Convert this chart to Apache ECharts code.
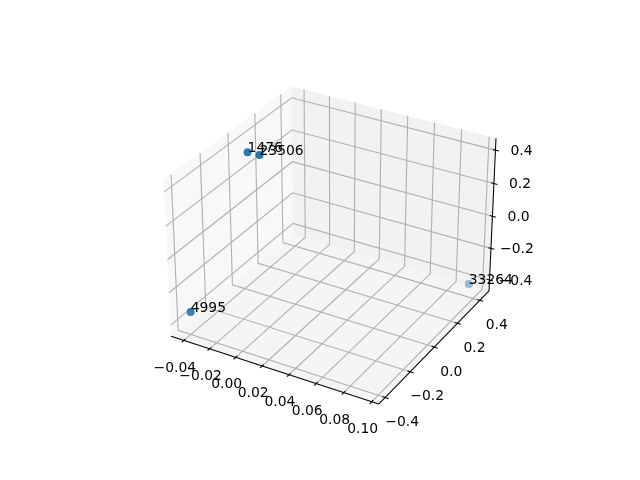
<!DOCTYPE html>
<html><head><meta charset="utf-8"><style>html,body{margin:0;background:#fff}#c{width:640px;height:480px}</style>
<script src="https://cdn.jsdelivr.net/npm/echarts@6/dist/echarts.min.js"></script></head><body><div id="c"></div>
<script>
const labels=['1476','23506','4995','33264'];
const xVals=[-0.026,-0.017,-0.036,0.092];
const yVals=[-0.086,-0.086,-0.43,0.455];
const zVals=[0.457,0.459,-0.297,-0.437];
const xTicks=[-0.04,-0.02,0,0.02,0.04,0.06,0.08,0.10];
const yTicks=[-0.4,-0.2,0,0.2,0.4];
const zTicks=[-0.4,-0.2,0,0.2,0.4];
const xLim=[-0.05,0.105],yLim=[-0.45,0.485],zLim=[-0.47,0.47];
const asp=[4,4,3],nrm=Math.hypot(...asp),ba=asp.map(a=>a*1.8294640721620434*25/24/nrm);
const el=30*Math.PI/180,az=-60*Math.PI/180,dist=10;
const R=ba.map(a=>a/2),ps=[Math.cos(el)*Math.cos(az),Math.cos(el)*Math.sin(az),Math.sin(el)];
const E=R.map((r,i)=>r+dist*ps[i]);
const cross=(a,b)=>[a[1]*b[2]-a[2]*b[1],a[2]*b[0]-a[0]*b[2],a[0]*b[1]-a[1]*b[0]];
const unit=a=>{const n=Math.hypot(...a);return a.map(v=>v/n)};
const w=unit(E.map((e,i)=>e-R[i])),u=unit(cross([0,0,1],w)),v=cross(w,u);
const dot=(a,b)=>a[0]*b[0]+a[1]*b[1]+a[2]*b[2];
function proj(x,y,z){
 const P=[(x-xLim[0])/(xLim[1]-xLim[0])*ba[0]-E[0],(y-yLim[0])/(yLim[1]-yLim[0])*ba[1]-E[1],(z-zLim[0])/(zLim[1]-zLim[0])*ba[2]-E[2]];
 const vx=dot(u,P),vy=dot(v,P),vz=dot(w,P);
 const tx=vx/-vz,ty=vy/-vz;
 return [143.2+(tx+0.095)*369.6/0.185,427.4-(ty+0.095)*369.6/0.185,vz];
}
const xy=(x,y,z)=>proj(x,y,z).slice(0,2);
const [x0,x1]=xLim,[y0,y1]=yLim,[z0,z1]=zLim;
const panes=[
 {p:[[x0,y0,z0],[x0,y1,z0],[x0,y1,z1],[x0,y0,z1]],c:'rgba(242,242,242,0.5)'},
 {p:[[x0,y1,z0],[x1,y1,z0],[x1,y1,z1],[x0,y1,z1]],c:'rgba(230,230,230,0.5)'},
 {p:[[x0,y0,z0],[x1,y0,z0],[x1,y1,z0],[x0,y1,z0]],c:'rgba(236,236,236,0.5)'}
].map(o=>({value:o.p.flatMap(q=>xy(...q)),c:o.c}));
const grid=[];
xTicks.forEach(t=>grid.push({coords:[xy(t,y0,z0),xy(t,y1,z0),xy(t,y1,z1)]}));
yTicks.forEach(t=>grid.push({coords:[xy(x1,t,z0),xy(x0,t,z0),xy(x0,t,z1)]}));
zTicks.forEach(t=>grid.push({coords:[xy(x0,y0,t),xy(x0,y1,t),xy(x1,y1,t)]}));
const ax=[{coords:[xy(x0,y0,z0),xy(x1,y0,z0)]},{coords:[xy(x1,y0,z0),xy(x1,y1,z0)]},{coords:[xy(x1,y1,z0),xy(x1,y1,z1)]}];
const dy=(y1-y0)*0.0125,dx=(x1-x0)*0.0125;
xTicks.forEach(t=>ax.push({coords:[xy(t,y0+dy,z0),xy(t,y0-dy*1.3,z0)]}));
yTicks.forEach(t=>ax.push({coords:[xy(x1-dx,t,z0),xy(x1+dx*1.3,t,z0)]}));
zTicks.forEach(t=>ax.push({coords:[xy(x1-dx,y1,t),xy(x1+dx*1.3,y1,t)]}));
const fmt=(t,n)=>(t<0?'\u2212':'')+Math.abs(t).toFixed(n);
const texts=[];
xTicks.forEach(t=>{const p=xy(t,y0,z0);texts.push({value:[p[0]-9,p[1]+27.5],name:fmt(t,2)})});
yTicks.forEach(t=>{const p=xy(x1,t,z0);texts.push({value:[p[0]+17,p[1]+25],name:fmt(t,1)})});
zTicks.forEach(t=>{const p=xy(x1,y1,t);texts.push({value:[p[0]+26,p[1]+1],name:fmt(t,1)})});
const ptsDepth=labels.map((l,i)=>proj(xVals[i],yVals[i],zVals[i])[2]);
const dmin=Math.min(...ptsDepth),dmax=Math.max(...ptsDepth);
const pts=labels.map((l,i)=>({value:xy(xVals[i],yVals[i],zVals[i]),name:l,itemStyle:{opacity:1-(dmax-ptsDepth[i])/(dmax-dmin)*0.55}}));
const chart=echarts.init(document.getElementById('c'));
chart.setOption({animation:false,backgroundColor:'#fff',
 grid:{left:0,right:0,top:0,bottom:0},
 xAxis:{type:'value',min:0,max:640,show:false},
 yAxis:{type:'value',min:0,max:480,inverse:true,show:false},
 series:[
  {type:'custom',coordinateSystem:'cartesian2d',silent:true,z:1,data:panes,encode:{x:0,y:1},renderItem:(p,api)=>{const d=panes[p.dataIndex];const pts=[];for(let i=0;i<8;i+=2)pts.push(api.coord([d.value[i],d.value[i+1]]));return{type:'polygon',shape:{points:pts},style:{fill:d.c,stroke:null}}}},
  {type:'lines',coordinateSystem:'cartesian2d',polyline:true,silent:true,z:2,data:grid,lineStyle:{color:'#b0b0b0',width:1.1,opacity:1}},
  {type:'lines',coordinateSystem:'cartesian2d',polyline:true,silent:true,z:3,data:ax,lineStyle:{color:'#000',width:1.05,opacity:1}},
  {type:'scatter',z:4,symbolSize:8,data:pts,itemStyle:{color:'#1f77b4'},label:{show:false}},
  {type:'custom',coordinateSystem:'cartesian2d',silent:true,z:5,data:texts,renderItem:(p,api)=>{const d=texts[p.dataIndex],c=api.coord(d.value);return{type:'text',x:c[0],y:c[1],style:{text:d.name,font:'13.9px "DejaVu Sans"',fill:'#000',align:'center',verticalAlign:'middle'}}}},
  {type:'custom',coordinateSystem:'cartesian2d',silent:true,z:6,data:pts,renderItem:(p,api)=>{const d=pts[p.dataIndex],c=api.coord(d.value);return{type:'text',x:c[0],y:c[1]+3.5,style:{text:d.name,font:'13.9px "DejaVu Sans"',fill:'#000',align:'left',verticalAlign:'bottom'}}}}
 ]});
</script></body></html>
